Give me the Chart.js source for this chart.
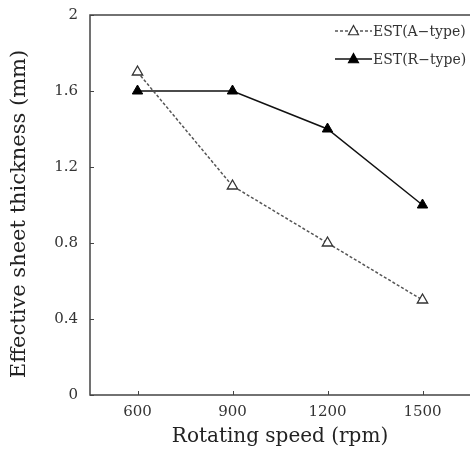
<!DOCTYPE html>
<html>
<head>
<meta charset="utf-8">
<script src="https://cdn.jsdelivr.net/npm/chart.js@4"></script>
<style>
  html, body { margin: 0; padding: 0; background: #fff; }
</style>
</head>
<body>
<canvas id="estChart" width="470" height="459"></canvas>
<script>
// rotating speed vs effective sheet thickness
const speeds = [600, 900, 1200, 1500];
const estA = [1.7, 1.1, 0.8, 0.5];
const estR = [1.6, 1.6, 1.4, 1.0];
const xTicks = [600, 900, 1200, 1500];
const yTicks = [0, 0.4, 0.8, 1.2, 1.6, 2];
const seriesNames = ["EST(A\u2212type)", "EST(R\u2212type)"];
const yTitle = "Effective sheet thickness (mm)";

const serif = "'DejaVu Serif', serif";
const axisColor = "#444";

// frame on three sides + small inward ticks, y title and the legend
const framePlugin = {
  id: "frame",
  beforeDatasetsDraw(chart) {
    const { ctx, chartArea: a, scales: { x, y } } = chart;
    ctx.save();
    ctx.strokeStyle = axisColor;
    ctx.lineWidth = 1.5;
    ctx.beginPath();
    ctx.moveTo(a.right + 2, a.top);
    ctx.lineTo(a.left, a.top);
    ctx.lineTo(a.left, a.bottom);
    ctx.lineTo(a.right + 2, a.bottom);
    ctx.stroke();
    ctx.lineWidth = 1;
    ctx.beginPath();
    xTicks.forEach(v => {
      const px = Math.round(x.getPixelForValue(v)) + 0.5;
      ctx.moveTo(px, a.bottom);
      ctx.lineTo(px, a.bottom - 4);
    });
    yTicks.forEach(v => {
      const py = Math.round(y.getPixelForValue(v)) + 0.5;
      ctx.moveTo(a.left, py);
      ctx.lineTo(a.left + 4, py);
    });
    ctx.stroke();

    // y title, a bit below the middle like the original
    ctx.translate(20, (a.top + a.bottom) / 2 + 9);
    ctx.rotate(-Math.PI / 2);
    ctx.fillStyle = "#222";
    ctx.font = "21px " + serif;
    ctx.textAlign = "center";
    ctx.textBaseline = "middle";
    ctx.fillText(yTitle, 0, 0);
    ctx.restore();
  },
  afterDraw(chart) {
    const { ctx, chartArea: a } = chart;
    ctx.save();
    chart.data.datasets.forEach((ds, i) => {
      const yy = a.top + 16 + i * 28;
      const x0 = a.right - 135, x1 = a.right - 98;
      const cx = (x0 + x1) / 2, r = 5;
      ctx.strokeStyle = ds.borderColor;
      ctx.lineWidth = 1.3;
      ctx.setLineDash(ds.borderDash || []);
      ctx.beginPath();
      ctx.moveTo(x0, yy);
      ctx.lineTo(x1, yy);
      ctx.stroke();
      ctx.setLineDash([]);
      ctx.fillStyle = ds.pointBackgroundColor;
      ctx.strokeStyle = ds.pointBorderColor;
      ctx.lineWidth = 1.2;
      ctx.beginPath();
      ctx.moveTo(cx, yy - r * 1.1);
      ctx.lineTo(cx + r, yy + r * 0.75);
      ctx.lineTo(cx - r, yy + r * 0.75);
      ctx.closePath();
      ctx.fill();
      ctx.stroke();
      ctx.fillStyle = "#333";
      ctx.font = "14px " + serif;
      ctx.textAlign = "left";
      ctx.textBaseline = "middle";
      ctx.fillText(seriesNames[i], x1 + 1, yy + 1);
    });
    ctx.restore();
  }
};

new Chart(document.getElementById("estChart"), {
  type: "line",
  data: {
    datasets: [
      {
        label: seriesNames[0],
        data: speeds.map((s, i) => ({ x: s, y: estA[i] })),
        borderColor: "#555",
        borderWidth: 1.5,
        borderDash: [3, 2],
        pointStyle: "triangle",
        pointRadius: 6,
        pointBackgroundColor: "#fff",
        pointBorderColor: "#333",
        pointBorderWidth: 1.3,
        tension: 0,
      },
      {
        label: seriesNames[1],
        data: speeds.map((s, i) => ({ x: s, y: estR[i] })),
        borderColor: "#111",
        borderWidth: 1.5,
        pointStyle: "triangle",
        pointRadius: 6,
        pointBackgroundColor: "#000",
        pointBorderColor: "#000",
        pointBorderWidth: 1,
        tension: 0,
      },
    ],
  },
  options: {
    responsive: false,
    animation: false,
    clip: false,
    layout: { autoPadding: false, padding: { top: 15, right: 0, bottom: 0, left: 0 } },
    plugins: { legend: { display: false }, tooltip: { enabled: false } },
    scales: {
      x: {
        type: "linear",
        min: 450,
        max: 1650,
        afterBuildTicks: s => { s.ticks = xTicks.map(v => ({ value: v })); },
        afterFit: s => { s.height = 64; s.paddingLeft = 0; s.paddingRight = 0; },
        grid: { display: false, drawTicks: false },
        border: { display: false },
        ticks: {
          color: "#333", padding: 8,
          font: { family: serif, size: 15 },
          callback: v => String(v),
        },
        title: {
          display: true,
          text: "Rotating speed (rpm)",
          color: "#222",
          font: { family: serif, size: 20 },
          padding: { top: 0, bottom: 10 },
        },
      },
      y: {
        min: 0,
        max: 2,
        afterBuildTicks: s => { s.ticks = yTicks.map(v => ({ value: v })); },
        afterFit: s => { s.width = 90; s.paddingTop = 0; s.paddingBottom = 0; },
        grid: { display: false, drawTicks: false },
        border: { display: false },
        ticks: {
          color: "#333", padding: 12,
          font: { family: serif, size: 15 },
          callback: v => String(v),
        },
      },
    },
  },
  plugins: [framePlugin],
});
</script>
</body>
</html>
